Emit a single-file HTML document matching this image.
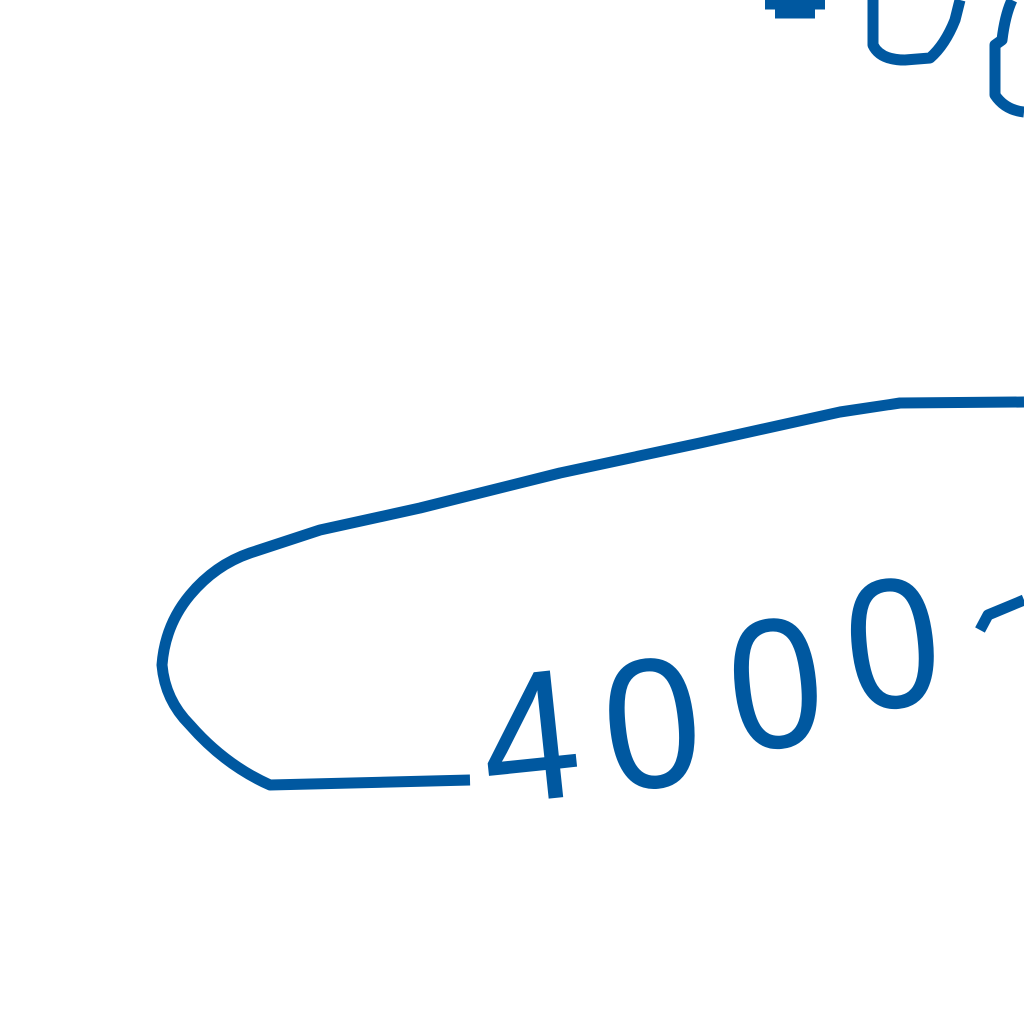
<!DOCTYPE html>
<html><head><meta charset="utf-8"><style>
html,body{margin:0;padding:0;background:#fff;width:1024px;height:1024px;overflow:hidden}
</style></head><body>
<svg width="1024" height="1024" viewBox="0 0 1024 1024" xmlns="http://www.w3.org/2000/svg">
<g fill="none" stroke="#0058a0" stroke-width="11" stroke-linejoin="round" stroke-linecap="butt">
<path d="M1024,402 L900,403 L840,412 L700,443 L560,473 L420,508 L320,530 L250,553 Q215,565 190,595 Q165,625 162,665 Q165,700 190,725 Q225,765 270,785 L470,780"/>
<path d="M765,4 L825,4 M775,13 L815,13"/>
<path d="M873,0 L873,45 Q880,60 905,60 L930,58 Q945,45 955,20 L960,0"/>
<path d="M1012,0 Q1005,15 1002,40 L995,45 L995,95 Q1005,110 1024,112"/>
<path d="M980,630 L988,615 L1024,600"/>
</g>
<g fill="#0058a0" font-family="Liberation Sans, sans-serif" font-size="185">
<text x="0" y="0" transform="translate(488,805) rotate(-6) scale(0.95,1)">4</text>
<text x="0" y="0" transform="translate(610,792) rotate(-6) scale(0.95,1)">0</text>
<text x="0" y="0" transform="translate(735,752) rotate(-6) scale(0.92,1)">0</text>
<text x="0" y="0" transform="translate(852,712) rotate(-6) scale(0.92,1)">0</text>
</g>
</svg>
</body></html>
